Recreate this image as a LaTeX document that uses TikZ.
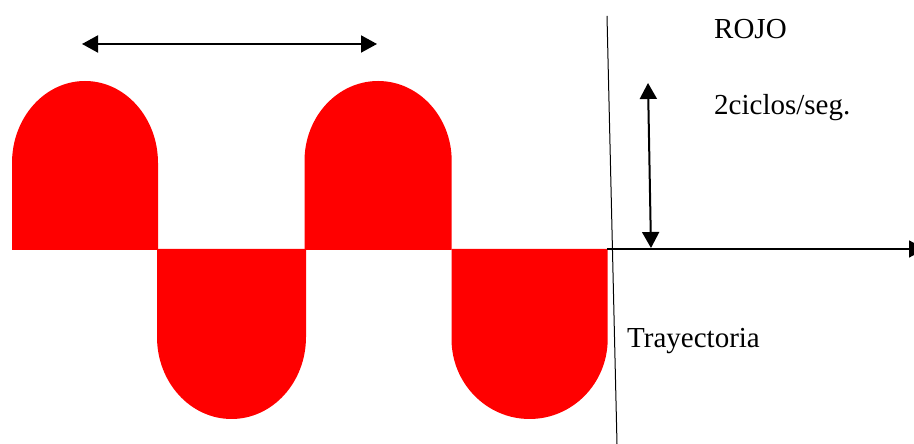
\documentclass[tikz,border=0pt]{standalone}
\usepackage{fontspec}
\setmainfont{Liberation Serif}
\usetikzlibrary{arrows.meta}
\begin{document}
\begin{tikzpicture}[x=1pt,y=1pt,
  lobe/.style={fill=red,draw=none},
  dblarrow/.style={line width=2pt,{Triangle[length=16pt,width=17pt]}-{Triangle[length=16pt,width=17pt]}},
  axisline/.style={line width=1.7pt,-{Triangle[length=16pt,width=17pt]}},
  thinline/.style={line width=1pt},
  lbl/.style={inner sep=0pt,anchor=base west,font=\fontsize{29}{32}\selectfont}]
\useasboundingbox (0,0) rectangle (914,444);
% red lobes
\fill[lobe] (12,194) -- (12,281) arc[start angle=180,end angle=0,x radius=73,y radius=82] -- (158,194) -- cycle;
\fill[lobe] (157,195) -- (157,107) arc[start angle=180,end angle=360,x radius=74.5,y radius=82] -- (306,195) -- cycle;
\fill[lobe] (304.5,194) -- (304.5,283) arc[start angle=180,end angle=0,x radius=73.6,y radius=80] -- (451.7,194) -- cycle;
\fill[lobe] (451.5,195) -- (451.5,105) arc[start angle=180,end angle=360,x radius=78.1,y radius=80] -- (607.7,195) -- cycle;
% coordinates
\coordinate (vtop) at (607,428);
\coordinate (vbot) at (617,0);
\coordinate (ax0) at (607,195);
\coordinate (ax1) at (925,195);
\coordinate (ua) at (648,361);
\coordinate (ub) at (651,196);
\coordinate (ha) at (82,400);
\coordinate (hb) at (377,400);
% lines
\draw[thinline] (vtop) -- (vbot);
\draw[axisline] (ax0) -- (ax1);
\draw[dblarrow] (ua) -- (ub);
\draw[dblarrow] (ha) -- (hb);
% labels
\node[lbl] (rojo) at (714,405) {ROJO};
\node[lbl] (freq) at (714,329) {2ciclos/seg.};
\node[lbl] (tray) at (627,96) {Trayectoria};
\end{tikzpicture}
\end{document}
